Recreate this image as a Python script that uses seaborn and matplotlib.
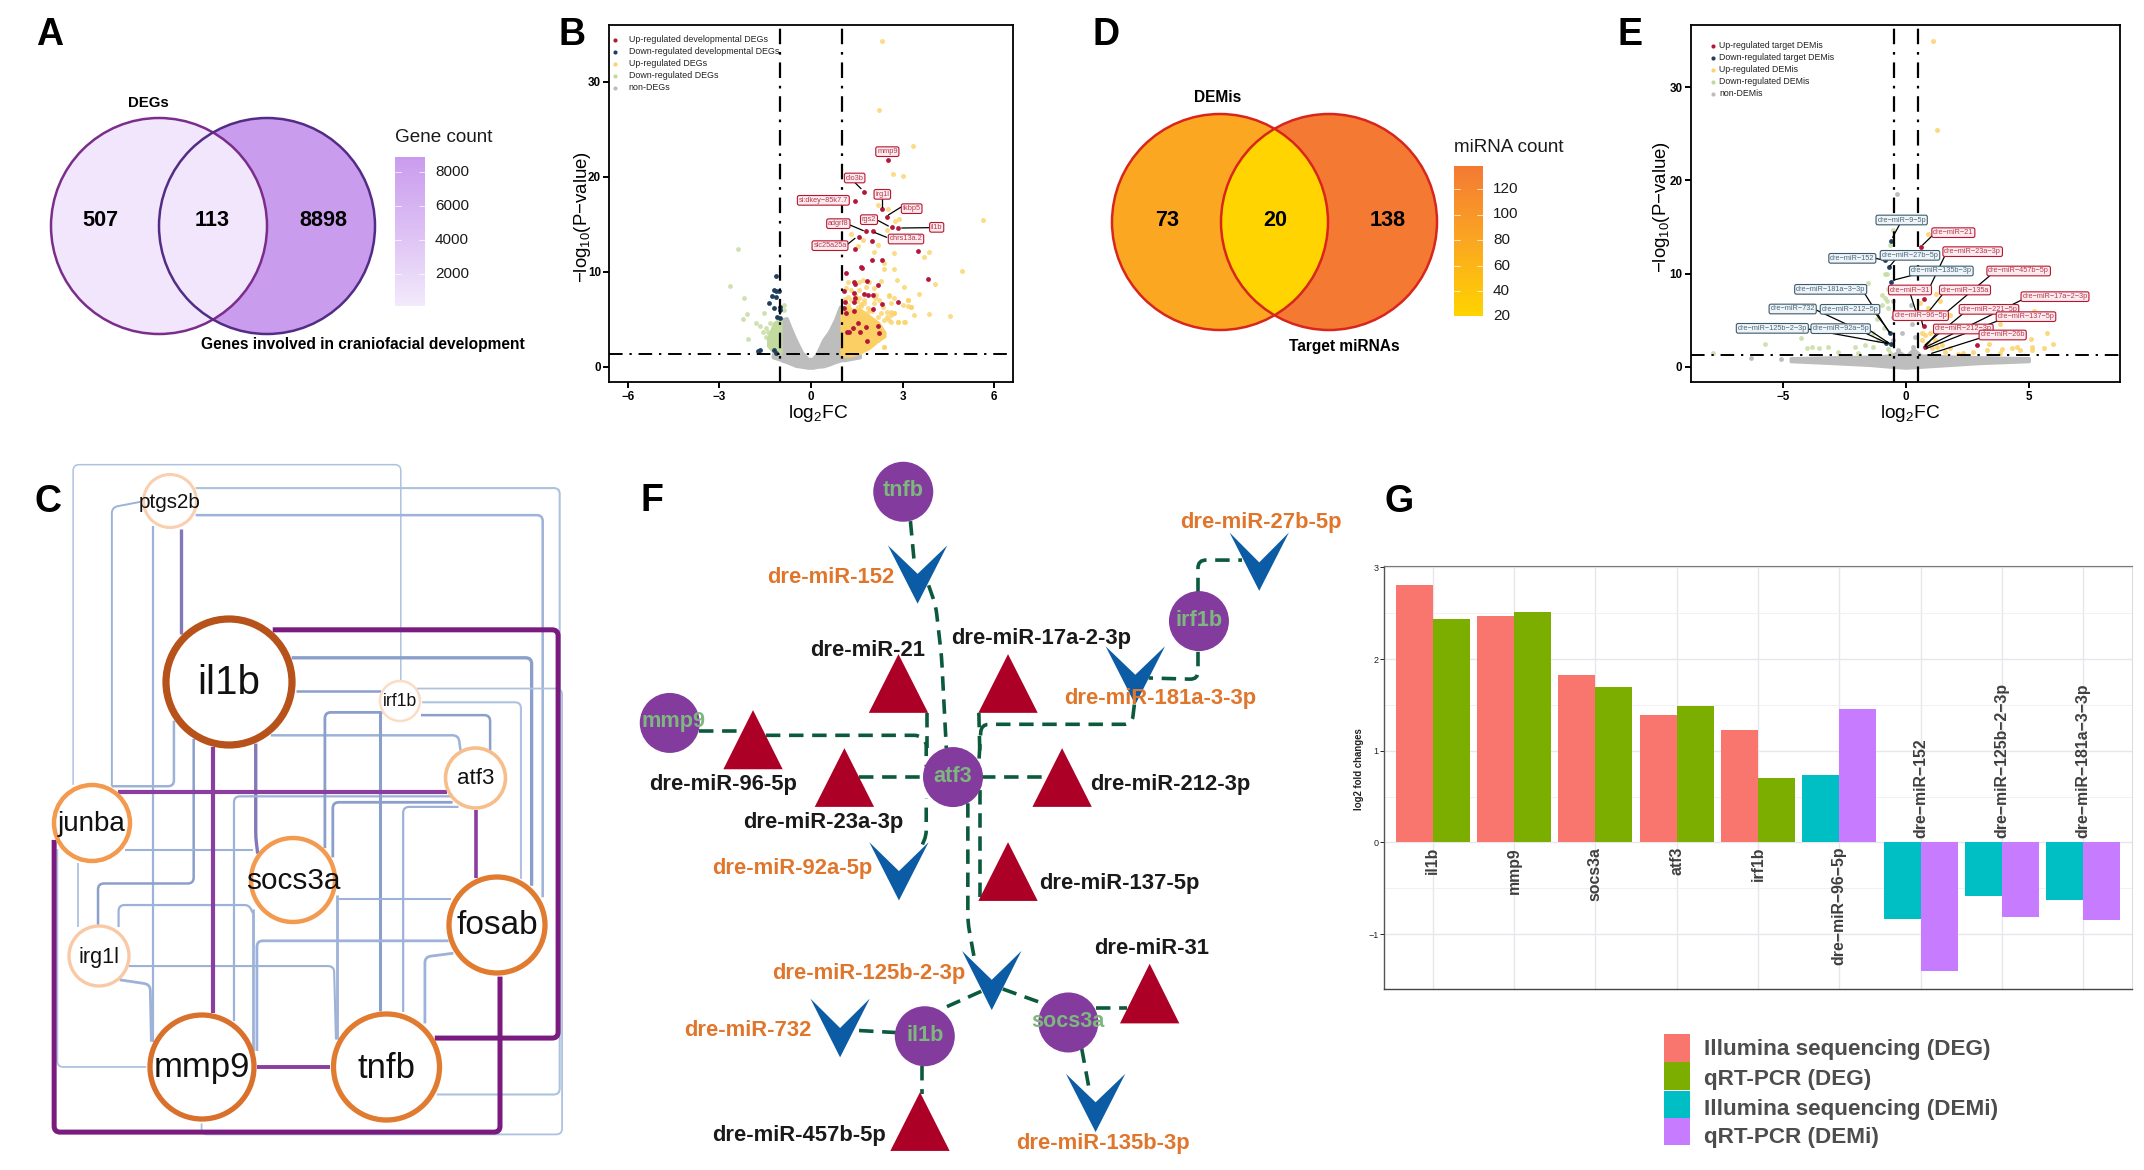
import numpy as np
import pandas as pd
import matplotlib
matplotlib.use("Agg")
import matplotlib.pyplot as plt
from matplotlib.patches import Circle, Polygon, Rectangle, PathPatch
from matplotlib.path import Path
import seaborn as sns

# panel G values
g_genes = ["il1b", "mmp9", "socs3a", "atf3", "irf1b", "dre−miR−96−5p", "dre−miR−152",
           "dre−miR−125b−2−3p", "dre−miR−181a−3−3p"]
g_illumina = [2.81, 2.47, 1.83, 1.39, 1.23, 0.74, -0.84, -0.58, -0.63]
g_qpcr = [2.44, 2.51, 1.70, 1.49, 0.70, 1.46, -1.40, -0.81, -0.85]
g_is_mirna = [False] * 5 + [True] * 4
g_legend = ["Illumina sequencing (DEG)", "qRT-PCR (DEG)", "Illumina sequencing (DEMi)", "qRT-PCR (DEMi)"]
g_colors = ["#F8766D", "#7CAE00", "#00BFC4", "#C77CFF"]

# panel B points
b_red_x = [2.51, 1.72, 1.43, 2.33, 2.48, 2.64, 2.86, 1.8, 2.04, 1.56, 1.99, 1.44, 3.51, 2.0, 2.31, 1.65, 1.15, 3.82,
           2.84, 1.42, 1.43, 1.83, 2.18, 1.09, 1.40, 1.43, 1.75, 1.88, 2.02, 1.11, 1.07, 1.4, 2.31, 2.02, 1.145, 1.40,
           2.18, 1.80, 1.53, 1.61, 1.25, 2.24, 1.36, 1.83, 1.66, 1.17]
b_red_y = [21.8, 18.4, 17.5, 16.6, 15.8, 14.75, 14.6, 14.3, 14.26, 13.7, 13.2, 12.4, 12.2, 11.2, 11.2, 10.5, 9.9, 9.2,
           6.85, 8.9, 8.7, 9.06, 8.6, 8.0, 7.73, 7.2, 7.66, 7.5, 7.5, 6.85, 6.15, 6.8, 6.6, 6.08, 5.6, 5.9,
           4.3, 4.15, 4.6, 3.7, 3.7, 3.5, 4.05, 2.75, 10.4, 3.6]
b_navy_x = [-1.13, -1.15, -1.04, -1.2, -1.29, -1.13, -1.38, -1.0, -1.0, -1.2, -1.11, -1.0, -1.74, -1.66, -1.2, -1.15]
b_navy_y = [9.5, 8.0, 8.0, 8.1, 7.45, 7.3, 6.68, 6.3, 6.0, 6.2, 5.27, 5.1, 1.65, 1.75, 1.8, 1.45]
b_yellow_x = [2.31, 2.21, 3.33, 2.69, 3.01, 2.18, 2.53, 2.89, 2.75, 5.62, 2.5, 1.31, 1.7, 2.18, 1.53, 3.87, 3.71, 2.73,
              2.07, 2.4, 2.7, 2.4, 4.93, 2.8, 3.05, 4.06, 3.52, 3.16, 2.56, 3.19, 3.27, 3.38, 3.87, 4.56, 2.62, 2.7,
              2.56, 2.86, 3.09, 2.38, 2.18, 1.2, 1.58, 1.69, 1.91, 2.07, 2.29, 1.15, 1.31, 1.58, 1.8, 2.13, 1.2, 1.58,
              2.24, 2.56, 2.73, 2.62, 3.0, 3.16, 3.27, 1.2, 1.53, 1.75, 2.07, 2.35, 2.5, 2.73, 2.62, 1.31, 1.69, 2.18,
              2.4, 2.62, 2.84, 3.05, 2.07, 1.96, 2.18, 2.38, 2.5, 1.3, 1.45, 1.62, 1.85, 1.98, 2.3, 1.12, 1.25, 1.5,
              1.72, 1.93, 2.1, 1.38, 1.62, 1.82]
b_yellow_y = [34.35, 27, 23.25, 20.3, 20.1, 17, 16.6, 15.55, 15.3, 15.4, 14.4, 13.95, 13.3, 12.8, 12.7, 12.05, 11.6, 12,
              12.1, 10.9, 10.3, 10.26, 10.05, 9.1, 8.4, 8.7, 7.7, 7.0, 7.55, 6.4, 6.25, 5.45, 5.55, 5.34, 5.8, 5.6,
              4.9, 4.74, 4.67, 2.1, 4.0, 8.96, 8.96, 9.13, 8.96, 8.25, 9.03, 8.25, 8.08, 8.08, 8.36, 7.55, 7.38, 7.2,
              7.02, 7.45, 7.2, 6.67, 6.5, 7.0, 6.32, 6.5, 6.32, 6.67, 6.67, 6.25, 5.8, 5.7, 5.44, 5.62, 5.62, 5.27,
              4.92, 4.74, 4.74, 4.74, 3.69, 3.16, 2.81, 2.1, 5.27, 7.0, 7.6, 6.4, 6.2, 5.9, 5.6, 7.1, 6.2, 6.9,
              7.0, 6.0, 7.2, 5.9, 6.6, 5.7]
b_green_x = [-2.4, -2.64, -2.2, -2.1, -2.22, -1.8, -1.66, -1.53, -1.47, -1.58, -2.05, -1.33, -1.4, -1.47, -1.25, -0.87, -0.87]
b_green_y = [12.36, 8.5, 7.27, 5.55, 5.0, 4.57, 4.28, 5.62, 4.04, 3.69, 2.88, 4.57, 3.69, 3.16, 3.3, 6.5, 6.0]
# outlines of the solid clouds in panel B
b_grey_cloud_x = [-1.25, -1.05, -0.9, -0.8, -0.65, -0.5, -0.3, -0.1, 0.05, 0.2, 0.4, 0.6, 0.8, 0.95, 1.0, 1.1, 1.6]
b_grey_cloud_top = [1.1, 3.9, 5.0, 5.1, 3.9, 2.8, 1.5, 0.8, 0.8, 1.4, 2.8, 3.7, 5.0, 6.3, 6.3, 1.6, 1.2]
b_grey_cloud_low = [1.0, 0.8, 0.6, 0.5, 0.3, 0.1, 0.0, -0.1, -0.1, 0.0, 0.05, 0.25, 0.5, 0.65, 0.7, 0.7, 1.0]
b_yellow_cloud_x = [1.0, 1.3, 1.6, 1.9, 2.2, 2.4]
b_yellow_cloud_top = [6.2, 6.0, 6.0, 5.3, 4.6, 3.6]
b_yellow_cloud_low = [1.2, 1.2, 1.5, 2.0, 2.8, 3.2]
b_green_cloud_x = [-1.4, -1.2, -1.0]
b_green_cloud_top = [3.0, 4.6, 5.0]
b_green_cloud_low = [2.2, 1.5, 1.5]

# panel E points
e_red_x = [0.6, 0.71, 0.71, 2.91, 0.77]
e_red_y = [12.9, 7.27, 4.37, 2.36, 2.08]
e_navy_x = [-0.61, -0.86, -0.71, -0.63, -0.65, -0.6, -0.83]
e_navy_y = [13.5, 11.46, 10.67, 9.13, 3.58, 2.4, 2.58]
e_yellow_x = [1.09, 1.25, 0.88, 1.21, 1.39, 0.57, 0.91, 1.79, 5.23, 3.83, 5.73, 5.08, 6.0, 5.63, 5.12, 5.12, 4.51, 4.3,
              3.9, 3.36, 3.29, 2.74, 2.34, 2.13, 1.59, 1.45, 1.25, 1.05, 0.64, 0.77, 0.98, 1.18, 0.64, 0.91, 1.79,
              3.83, 4.65]
e_yellow_y = [35, 25.4, 14.3, 7.8, 7.0, 6.8, 6.27, 5.55, 6.0, 4.58, 3.58, 2.97, 2.43, 1.97, 2.15, 1.8, 2.15, 1.97,
              1.86, 2.4, 1.8, 1.6, 1.43, 1.36, 1.6, 2.33, 2.15, 1.97, 3.58, 3.4, 3.58, 2.86, 2.86, 2.5, 1.97, 1.43, 1.8]
e_green_x = [-0.52, -0.65, -0.86, -0.76, -1.54, -0.73, -0.99, -0.86, -0.79, -0.99, -0.72, -1.2, -0.92, -1.33, -1.13,
             -1.67, -2.08, -1.33, -1.94, -3.17, -3.57, -3.85, -4.05, -4.28, -5.77, -7.88, -2.76, -0.72, -0.65]
e_green_y = [14.7, 13.1, 9.95, 9.92, 8.95, 8.3, 7.7, 7.34, 7.0, 6.6, 6.27, 5.08, 4.1, 3.58, 2.86, 2.33, 2.15, 2.15,
             1.5, 2.15, 1.97, 2.08, 1.97, 3.04, 2.4, 1.43, 1.6, 1.86, 1.43]
e_grey_x = [-0.38, -0.52, -0.52, 0.23, 0.37, 0.19, 0.37, 0.3, -0.31, -0.18, -6.32, -5.1, -0.52]
e_grey_y = [18.6, 7, 5.37, 4.55, 5.37, 6.6, 3.2, 2.15, 1.8, 3.58, 0.97, 0.8, 2.86]
e_grey_cloud_x = [-4.7, -3, -1.5, -0.6, -0.3, 0, 0.3, 0.6, 1.5, 3, 5.0]
e_grey_cloud_top = [0.9, 1.0, 1.05, 1.2, 1.6, 1.1, 1.9, 1.2, 1.1, 1.0, 0.9]
e_grey_cloud_low = [0.6, 0.4, 0.2, 0.0, -0.05, -0.1, -0.05, 0.0, 0.15, 0.4, 0.6]

RED, NAVY, YELLOW, GREEN, GREY = "#B5173A", "#1F3F5C", "#FBD36B", "#C3DA9E", "#BDBDBD"
FONT = "Liberation Sans"

sns.set_theme(style="white")
plt.rcParams["font.family"] = FONT
plt.rcParams["mathtext.fontset"] = "custom"
plt.rcParams["mathtext.rm"] = FONT
plt.rcParams["mathtext.default"] = "regular"

W, H = 2144, 1170
fig = plt.figure(figsize=(W / 100, H / 100), dpi=100)


def px_axes(left, top, right, bottom, **kw):
    return fig.add_axes([left / W, 1 - bottom / H, (right - left) / W, (bottom - top) / H], **kw)


# overlay in pixel coordinates for the schematic panels and the annotations
ov = fig.add_axes([0, 0, 1, 1], zorder=10)
ov.set_xlim(0, W)
ov.set_ylim(H, 0)
ov.axis("off")
ov.patch.set_alpha(0)


def txt(x, y, s, size, color="black", weight="normal", ha="center", va="center", **kw):
    return ov.text(x, y, s, fontsize=size, color=color, fontweight=weight, ha=ha, va=va, **kw)


for letter, lx, ly in [("A", 50, 35), ("B", 572, 35), ("D", 1106, 35), ("E", 1630, 35),
                       ("C", 48, 502), ("F", 652, 501), ("G", 1399, 502)]:
    txt(lx, ly, letter, 27, weight="bold")


def colorbar(left, top, right, bottom, low, mid, high, ticks, tick_labels, title, title_y):
    cmap = matplotlib.colors.LinearSegmentedColormap.from_list("bar", [low, mid, high])
    ov.imshow(np.linspace(1, 0, 200).reshape(-1, 1), cmap=cmap, extent=(left, right, bottom, top), aspect="auto")
    ov.set_xlim(0, W)
    ov.set_ylim(H, 0)
    bw = right - left
    for ty, lab in zip(ticks, tick_labels):
        ov.plot([left, left + bw * 0.2], [ty, ty], color="white", lw=0.6, alpha=0.8)
        ov.plot([right - bw * 0.2, right], [ty, ty], color="white", lw=0.6, alpha=0.8)
        txt(right + 10, ty, lab, 11, ha="left", color="#1A1A1A")
    txt(left, title_y, title, 13.6, ha="left", color="#1A1A1A")


# panel A
cl = Circle((159, 226), 108, fc="#F1E6FB", ec="none", zorder=2)
cr = Circle((267, 226), 108, fc="#CA9CEE", ec="none", zorder=1)
ov.add_patch(cr)
ov.add_patch(cl)
ov.add_patch(Circle((159, 226), 108, fc="none", ec="#7B2D8B", lw=1.8, zorder=3))
ov.add_patch(Circle((267, 226), 108, fc="none", ec="#532C86", lw=1.8, zorder=3))
for vx, s in [(100, "507"), (212.5, "113"), (323.5, "8898")]:
    txt(vx, 221, s, 15.6, weight="bold", zorder=5)
txt(148.5, 103, "DEGs", 10.8, weight="bold")
txt(362.5, 345, "Genes involved in craniofacial development", 11.2, weight="bold")
colorbar(395, 157, 425, 306, "#F3EAFC", "#DDC0F4", "#CA9CEE", [172, 206, 240, 274],
         ["8000", "6000", "4000", "2000"], "Gene count", 138)

# panel D
dl = Circle((1220, 222), 108, fc="#FBA722", ec="none", zorder=1)
dr = Circle((1329, 222), 108, fc="#F47A33", ec="none", zorder=1)
ov.add_patch(dl)
ov.add_patch(dr)
lens = Circle((1220, 222), 108, fc="#FFD400", ec="none", zorder=2)
ov.add_patch(lens)
lens.set_clip_path(Circle((1329, 222), 108, transform=ov.transData))
ov.add_patch(Circle((1220, 222), 108, fc="none", ec="#D9261C", lw=1.8, zorder=3))
ov.add_patch(Circle((1329, 222), 108, fc="none", ec="#D9261C", lw=1.8, zorder=3))
for vx, s in [(1167.5, "73"), (1275.5, "20"), (1387.5, "138")]:
    txt(vx, 220, s, 15.6, weight="bold", zorder=5)
txt(1217.5, 97, "DEMis", 11.2, weight="bold")
txt(1344.5, 347, "Target miRNAs", 11.2, weight="bold")
colorbar(1454, 166, 1483, 316, "#FFD400", "#FBA722", "#F47A33", [189, 214.5, 240, 265.5, 291, 316],
         ["120", "100", "80", "60", "40", "20"], "miRNA count", 148)


def volcano(ax, clouds, groups, xlim, ylim, xticks, yticks, vlines, xlab_x, ylab_x, ylab_y):
    for cx, top, low, col in clouds:
        ax.fill_between(cx, low, top, color=col, lw=2.5, zorder=1)
    for gx, gy, col, alpha, size, z in groups:
        sns.scatterplot(x=gx, y=gy, color=col, alpha=alpha, s=size, linewidth=0, ax=ax, legend=False, zorder=z)
    dash = (0, (7, 3.5, 1.2, 3.5))
    for v in vlines:
        ax.axvline(v, color="black", lw=1.6, ls=dash, zorder=4)
    ax.axhline(1.3, color="black", lw=1.4, ls=dash, zorder=4)
    ax.set_xlim(*xlim)
    ax.set_ylim(*ylim)
    ax.set_xticks(xticks)
    ax.set_xticklabels([str(t).replace("-", "−") for t in xticks])
    ax.set_yticks(yticks)
    ax.tick_params(axis="both", length=4, width=1.4, color="black", labelsize=8.4, pad=2, bottom=True, left=True)
    for lab in ax.get_xticklabels() + ax.get_yticklabels():
        lab.set_fontweight("bold")
        lab.set_color("black")
    for sp in ax.spines.values():
        sp.set_visible(True)
        sp.set_color("black")
        sp.set_linewidth(1.3)
    ax.set_xlabel(r"$\mathrm{log_2}$FC", fontsize=13.8, color="black", labelpad=0)
    ax.xaxis.label.set_x(xlab_x)
    ax.set_ylabel(r"−$\mathrm{log_{10}}$(P−value)", fontsize=13.4, color="black")
    ax.yaxis.set_label_coords(ylab_x, ylab_y)


# panel B
ax_b = px_axes(609.3, 25, 1012.7, 382.3, zorder=2)
volcano(ax_b,
        [(b_grey_cloud_x, b_grey_cloud_top, b_grey_cloud_low, GREY),
         (b_yellow_cloud_x, b_yellow_cloud_top, b_yellow_cloud_low, "#FBCF63"),
         (b_green_cloud_x, b_green_cloud_top, b_green_cloud_low, GREEN)],
        [(b_green_x, b_green_y, GREEN, 0.8, 12, 2), (b_yellow_x, b_yellow_y, YELLOW, 0.8, 13, 2),
         (b_navy_x, b_navy_y, NAVY, 1, 12, 3), (b_red_x, b_red_y, RED, 1, 12, 3)],
        (-6.6, 6.6), (-1.65, 36), [-6, -3, 0, 3, 6], [0, 10, 20, 30], [-1, 1], 0.517, -0.04, 0.463)

# panel E
ax_e = px_axes(1690.7, 25, 2120, 382.3, zorder=2)
volcano(ax_e,
        [(e_grey_cloud_x, e_grey_cloud_top, e_grey_cloud_low, GREY)],
        [(e_grey_x, e_grey_y, GREY, 1, 12, 2), (e_green_x, e_green_y, GREEN, 0.8, 12, 2),
         (e_yellow_x, e_yellow_y, YELLOW, 0.85, 13, 2), (e_navy_x, e_navy_y, NAVY, 1, 12, 3),
         (e_red_x, e_red_y, RED, 1, 12, 3)],
        (-8.78, 8.72), (-1.68, 36.7), [-5, 0, 5], [0, 10, 20, 30], [-0.5, 0.5], 0.511, -0.044, 0.49)


def z_b(zx, zy):
    return 540 + zx / 3, zy / 3


def z_e(zx, zy):
    return 1620 + zx / 3, zy / 3


def repel_label(conv, s, cx, cy, seg, edge, face, tcol):
    if seg is not None:
        (x0, y0), (x1, y1) = conv(*seg[:2]), conv(*seg[2:])
        ov.plot([x0, x1], [y0, y1], color="black", lw=0.9, zorder=6)
    bx, by = conv(cx, cy)
    txt(bx, by, s, 5.3, color=tcol, zorder=7,
        bbox=dict(boxstyle="round,pad=0.18,rounding_size=0.25", fc=face, ec=edge, lw=0.8))


b_labels = [("mmp9", 1042, 455, None), ("dio3b", 944, 534, (945, 548, 963, 566)),
            ("si:dkey−85k7.7", 850, 601, None), ("irg1l", 1027, 583, (1027, 595, 1027, 620)),
            ("fkbp5", 1115, 626, (1082, 622, 1045, 645)), ("rgs2", 987, 659, (1015, 662, 1045, 678)),
            ("il1b", 1190, 682, (1168, 683, 1085, 684)), ("adgrf8", 895, 671, (930, 675, 970, 692)),
            ("dhrs13a.2", 1098, 717, (1040, 712, 1005, 698)), ("slc25a25a", 870, 737, (920, 735, 945, 715))]
for s, cx, cy, seg in b_labels:
    repel_label(z_b, s, cx, cy, seg, "#B5172F", "#FCEBEE", "#B83A50")

e_blue_labels = [("dre−miR−9−5p", 845, 660, (838, 675, 818, 712)), ("dre−miR−152", 697, 775, (757, 773, 790, 780)),
                 ("dre−miR−27b−5p", 870, 766, (825, 780, 810, 798)),
                 ("dre−miR−135b−3p", 964, 813, (880, 825, 822, 840)),
                 ("dre−miR−181a−3−3p", 632, 868, (726, 868, 808, 998)),
                 ("dre−miR−732", 518, 927, (582, 927, 802, 1030)), ("dre−miR−212−5p", 690, 928, (765, 938, 810, 998)),
                 ("dre−miR−125b−2−3p", 457, 985, (553, 985, 800, 1030)),
                 ("dre−miR−92a−5p", 662, 986, (740, 985, 808, 1030))]
e_red_labels = [("dre−miR−21", 1000, 698, (942, 702, 908, 735)), ("dre−miR−23a−3p", 1058, 755, (978, 760, 930, 860)),
                ("dre−miR−457b−5p", 1196, 813, (1112, 825, 970, 945)), ("dre−miR−31", 870, 870, (872, 885, 888, 935)),
                ("dre−miR−135a", 1035, 870, (966, 885, 930, 930)),
                ("dre−miR−17a−2−3p", 1305, 890, (1215, 895, 920, 1040)),
                ("dre−miR−96−5p", 902, 947, (905, 962, 908, 975)),
                ("dre−miR−221−5p", 1107, 928, (1030, 940, 915, 1035)),
                ("dre−miR−137−5p", 1218, 950, (1140, 960, 920, 1045)),
                ("dre−miR−212−3p", 1030, 987, (950, 1000, 915, 1040)),
                ("dre−miR−26b", 1148, 1005, (1087, 1012, 935, 1060))]
for s, cx, cy, seg in e_blue_labels:
    repel_label(z_e, s, cx, cy, seg, "#3D5A6C", "#EEF4F8", "#4D6A7C")
for s, cx, cy, seg in e_red_labels:
    repel_label(z_e, s, cx, cy, seg, "#B5172F", "#FCEBEE", "#B83A50")

# volcano legends
b_legend = ["Up-regulated developmental DEGs", "Down-regulated developmental DEGs", "Up-regulated DEGs",
            "Down-regulated DEGs", "non-DEGs"]
e_legend = ["Up-regulated target DEMis", "Down-regulated target DEMis", "Up-regulated DEMis", "Down-regulated DEMis",
            "non-DEMis"]
leg_cols = [RED, NAVY, YELLOW, GREEN, GREY]
for s, col, zy in zip(b_legend, leg_cols, [120, 156, 192, 228, 263]):
    ov.scatter(*z_b(224, zy), s=9, color=col, linewidth=0)
    lx, ly = z_b(266, zy)
    txt(lx, ly, s, 6.4, ha="left", color="#222222")
for s, col, zy in zip(e_legend, leg_cols, [138, 174, 210, 245, 281]):
    ov.scatter(*z_e(278, zy), s=9, color=col, linewidth=0)
    lx, ly = z_e(298, zy)
    txt(lx, ly, s, 6.3, ha="left", color="#222222")


def rounded(pts, r):
    pts = [np.array(p, dtype=float) for p in pts]
    verts, codes = [pts[0]], [Path.MOVETO]
    for a, p, b in zip(pts[:-2], pts[1:-1], pts[2:]):
        la, lb = np.linalg.norm(p - a), np.linalg.norm(b - p)
        d = min(r, la / 2, lb / 2)
        verts += [p + (a - p) / la * d, p, p + (b - p) / lb * d]
        codes += [Path.LINETO, Path.CURVE3, Path.CURVE3]
    verts.append(pts[-1])
    codes.append(Path.LINETO)
    return Path(verts, codes)


def z_c(p):
    return p[0] / 2.53, 450 + p[1] / 2.18


THIN, MID, BLUE, PURP, PURP2, LAV = "#AEC2DE", "#9DB2D8", "#8B9FCB", "#7A1B80", "#8A3FA0", "#8478B8"
c_edges = [
    ([(185, 730), (185, 32), (1014, 32), (1014, 505)], THIN, 1.1),
    ([(495, 83), (1416, 83), (1416, 1405), (1105, 1405)], THIN, 1.5),
    ([(495, 142), (1373, 142), (1373, 975)], MID, 1.8),
    ([(355, 113), (283, 125), (283, 733)], MID, 1.4),
    ([(440, 590), (440, 733), (283, 733)], MID, 1.8),
    ([(387, 165), (387, 1290)], MID, 1.6),
    ([(458, 172), (458, 402)], LAV, 2.4),
    ([(738, 453), (1345, 453), (1345, 950)], BLUE, 2.4),
    ([(748, 526), (965, 526)], BLUE, 1.8),
    ([(685, 622), (1160, 622), (1165, 655)], MID, 1.8),
    ([(647, 640), (647, 845), (652, 880)], LAV, 2.4),
    ([(490, 630), (490, 945), (248, 945), (248, 1035)], BLUE, 1.8),
    ([(1145, 755), (592, 755), (592, 1245)], MID, 1.6),
    ([(1145, 768), (842, 768), (842, 888)], BLUE, 2.0),
    ([(1160, 778), (1020, 778), (1020, 1225)], MID, 1.6),
    ([(1065, 578), (1240, 578), (1240, 655)], BLUE, 1.8),
    ([(1068, 550), (1318, 550), (1318, 935)], THIN, 1.5),
    ([(1055, 520), (1422, 520), (1422, 1492), (510, 1492), (510, 1468)], THIN, 1.3),
    ([(968, 572), (822, 572), (822, 868)], BLUE, 2.0),
    ([(962, 572), (962, 1222)], BLUE, 2.2),
    ([(315, 872), (640, 872)], MID, 1.5),
    ([(198, 900), (198, 1040)], THIN, 1.3),
    ([(145, 870), (145, 1345), (370, 1345)], THIN, 1.3),
    ([(303, 1155), (380, 1165), (383, 1290)], MID, 2.0),
    ([(300, 1040), (300, 992), (630, 992), (640, 1010)], MID, 1.6),
    ([(640, 1000), (640, 1310)], MID, 2.0),
    ([(325, 1125), (845, 1125), (850, 1285)], MID, 1.5),
    ([(852, 970), (852, 1285)], MID, 2.0),
    ([(850, 978), (1140, 978)], MID, 1.5),
    ([(1135, 1070), (650, 1070), (650, 1310)], MID, 2.0),
    ([(1147, 1097), (1075, 1105), (1075, 1250)], MID, 2.0),
    ([(690, 392), (1412, 392), (1412, 1282), (1100, 1282)], PURP, 3.6),
    ([(137, 850), (137, 1487), (1265, 1487), (1265, 1148)], PURP, 3.6),
    ([(540, 648), (540, 1228)], PURP2, 3.0),
    ([(298, 745), (1130, 745)], PURP2, 3.0),
    ([(1205, 785), (1205, 932)], PURP2, 2.6),
    ([(650, 1345), (835, 1345)], PURP2, 2.8),
]
for pts, col, lw in c_edges:
    ov.add_patch(PathPatch(rounded([z_c(p) for p in pts], 6), fc="none", ec=col, lw=lw, zorder=2,
                           capstyle="butt"))

c_nodes = ["ptgs2b", "il1b", "irf1b", "atf3", "junba", "socs3a", "fosab", "irg1l", "mmp9", "tnfb"]
c_x = [170, 229, 400, 475.5, 92, 293, 497, 99, 202, 386.5]
c_y = [501, 682, 701, 778, 823, 880, 925, 956, 1067, 1067]
c_r = [26.5, 63, 20, 30, 38, 42, 48, 30, 52, 53]
c_ring = ["#F9CFB0", "#B8521B", "#FBDCC7", "#F7BE8C", "#F39A4F", "#F39A4F", "#E07B2F", "#F8C9A4", "#D9702B", "#E07B2F"]
c_lw = [2.2, 5.2, 1.8, 2.6, 3.2, 3.2, 3.8, 2.4, 3.8, 3.8]
c_fs = [14.9, 29, 12.7, 16, 20, 21.4, 24, 15.6, 25, 25]
for name, nx, ny, nr, ring, nlw, fs in zip(c_nodes, c_x, c_y, c_r, c_ring, c_lw, c_fs):
    ov.add_patch(Circle((nx, ny), nr, fc="white", ec=ring, lw=nlw, zorder=3))
    txt(nx, ny + 1, name, fs, zorder=4, color="#111111")


def z_f(p):
    return 620 + p[0] / 2.09, 450 + p[1] / 2.18


f_links = [
    [(607, 155), (615, 245)],
    [(645, 295), (660, 340), (672, 450), (682, 650)],
    [(1208, 310), (1208, 240), (1300, 240)],
    [(1208, 440), (1208, 500), (1105, 497)],
    [(1075, 555), (1070, 598), (755, 598), (750, 680)],
    [(750, 573), (752, 660)],
    [(642, 573), (642, 650)],
    [(165, 612), (250, 612)],
    [(305, 622), (625, 622), (640, 635), (640, 690)],
    [(500, 713), (640, 713)],
    [(755, 713), (895, 713)],
    [(632, 860), (640, 840), (640, 760)],
    [(752, 975), (752, 740)],
    [(727, 770), (727, 1030), (740, 1105)],
    [(755, 1180), (680, 1215)],
    [(800, 1175), (880, 1205)],
    [(995, 1216), (1060, 1216)],
    [(965, 1305), (980, 1390)],
    [(578, 1270), (490, 1265)],
    [(632, 1342), (632, 1405)],
]
for pts in f_links:
    ov.add_patch(PathPatch(rounded([z_f(p) for p in pts], 8), fc="none", ec="#0B5A3C", lw=2.6, zorder=2,
                           ls=(0, (4, 2.4)), capstyle="butt"))

f_up = [(582, 445, 573), (811, 445, 573), (278, 567, 696), (469, 650, 778), (924, 650, 778), (811, 855, 983),
        (1107, 1120, 1250), (627, 1400, 1528)]
for cx, top, bot in f_up:
    ov.add_patch(Polygon([z_f((cx, top)), z_f((cx - 62, bot)), z_f((cx + 62, bot))], fc="#AC0026", ec="none", zorder=3))
f_down = [(622, 208, 270, 335), (1336, 180, 245, 307), (1077, 428, 490, 555), (583, 855, 918, 982),
          (777, 1092, 1155, 1221), (460, 1196, 1260, 1324), (994, 1360, 1422, 1487)]
for cx, top, notch, bot in f_down:
    ov.add_patch(Polygon([z_f((cx - 62, top)), z_f((cx, notch)), z_f((cx + 62, top)), z_f((cx, bot))],
                         fc="#0B5CA5", ec="none", zorder=3))
f_nodes = [("tnfb", 592, 91), ("mmp9", 104, 595), ("irf1b", 1210, 373), ("atf3", 696, 713), ("il1b", 637, 1278),
           ("socs3a", 937, 1248)]
for name, zx, zy in f_nodes:
    fx, fy = z_f((zx, zy))
    ov.add_patch(Circle((fx, fy), 30, fc="#833B9E", ec="none", zorder=3))
    txt(fx + (4 if name == "mmp9" else 0), fy - 1, name, 15.6, color="#7DB77D", weight="bold", zorder=5)
f_orange = [("dre-miR-152", 440, 278), ("dre-miR-27b-5p", 1340, 158), ("dre-miR-181a-3-3p", 1128, 542),
            ("dre-miR-92a-5p", 360, 912), ("dre-miR-125b-2-3p", 520, 1142), ("dre-miR-732", 267, 1266),
            ("dre-miR-135b-3p", 1010, 1512)]
f_black = [("dre-miR-21", 518, 437), ("dre-miR-17a-2-3p", 880, 410), ("dre-miR-96-5p", 215, 730),
           ("dre-miR-23a-3p", 425, 812), ("dre-miR-212-3p", 1150, 730), ("dre-miR-137-5p", 1044, 944),
           ("dre-miR-31", 1112, 1086), ("dre-miR-457b-5p", 375, 1495)]
for items, col in [(f_orange, "#E0762B"), (f_black, "#1A1A1A")]:
    for s, zx, zy in items:
        fx, fy = z_f((zx, zy))
        txt(fx, fy, s, 15.8, color=col, weight="bold", zorder=6)

# panel G
g_df = pd.DataFrame({
    "gene": g_genes * 2,
    "method": ["Illumina"] * len(g_genes) + ["qRT-PCR"] * len(g_genes),
    "log2fc": g_illumina + g_qpcr,
})
ax_g = px_axes(1384, 566, 2132, 989, zorder=2)
sns.barplot(data=g_df, x="gene", y="log2fc", hue="method", order=g_genes, width=0.91, gap=0, legend=False,
            ax=ax_g, saturation=1, zorder=3)
for cont, shift in zip(ax_g.containers, [0, 1]):
    for bar, mirna in zip(cont, g_is_mirna):
        bar.set_facecolor(g_colors[(2 if mirna else 0) + shift])
        bar.set_edgecolor("none")
ax_g.set_xlim(-0.6, 8.6)
ax_g.set_ylim(-1.6, 3.015)
ax_g.set_yticks([-1, 0, 1, 2, 3])
ax_g.set_yticklabels(["−1", "0", "1", "2", "3"])
ax_g.set_xticks(range(len(g_genes)))
ax_g.set_xticklabels([])
ax_g.set_yticks([-0.5, 0.5, 1.5, 2.5], minor=True)
ax_g.grid(True, which="major", color="#E6E6EC", lw=1.0)
ax_g.grid(True, which="minor", axis="y", color="#EFEFF3", lw=0.6)
ax_g.set_axisbelow(True)
ax_g.tick_params(axis="y", which="major", length=3, width=0.7, labelsize=6.5, pad=1, left=True, colors="#222222")
ax_g.tick_params(axis="y", which="minor", length=0)
ax_g.tick_params(axis="x", length=0)
ax_g.set_xlabel("")
ax_g.set_ylabel("log2 fold changes", fontsize=6.9, fontweight="bold", color="#222222")
ax_g.yaxis.set_label_coords(-0.027, 0.52)
for side, sp in ax_g.spines.items():
    sp.set_visible(True)
    sp.set_linewidth(1.0 if side in ("bottom", "left") else 0.8)
    sp.set_color({"bottom": "#444444", "left": "#555555", "top": "#777777", "right": "#DDDDDD"}[side])
for i, (name, val) in enumerate(zip(g_genes, g_illumina)):
    if val > 0:
        ax_g.text(i, -0.05, name, rotation=90, ha="center", va="top", fontsize=11.4, fontweight="bold", color="#3F3F3F")
    else:
        ax_g.text(i, 0.05, name, rotation=90, ha="center", va="bottom", fontsize=11.4, fontweight="bold", color="#3F3F3F")
for s, col, ly, ty in zip(g_legend, g_colors, [1034, 1062, 1090.5, 1117.5], [1050, 1080, 1109, 1137.5]):
    ov.add_patch(Rectangle((1664, ly), 26, 27.5, fc=col, ec="none"))
    txt(1704, ty, s, 16.2, color="#4D4D4D", weight="bold", ha="left")

fig.savefig("out.png", dpi=100)
